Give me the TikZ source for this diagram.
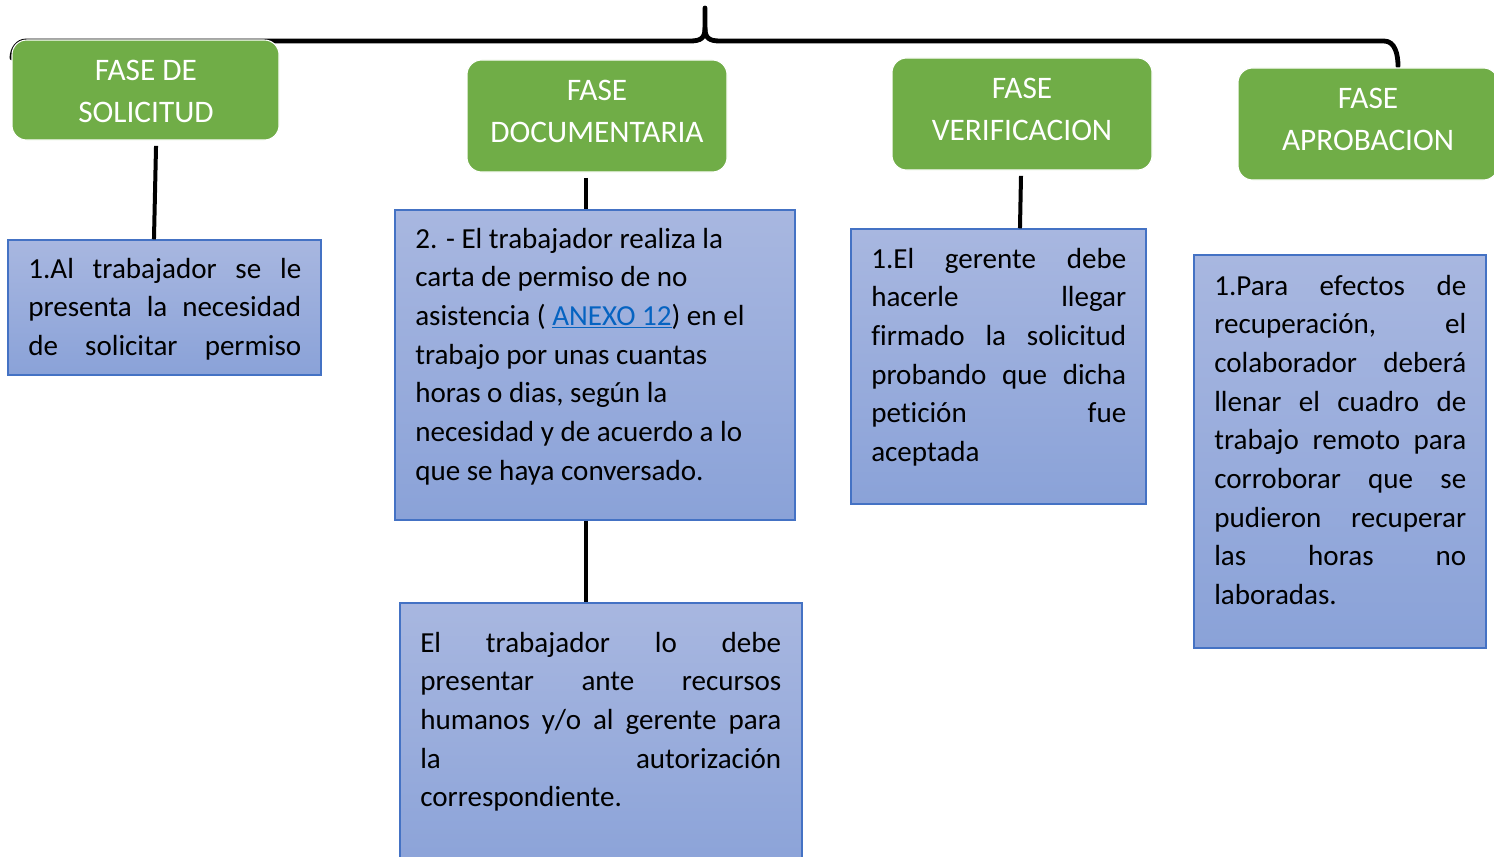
\documentclass[tikz,border=0pt]{standalone}
\usepackage{fontspec}
\setmainfont[Ligatures=NoCommon]{Carlito}
\definecolor{gfill}{HTML}{70AD47}
\definecolor{btop}{HTML}{A8B7E0}
\definecolor{bbot}{HTML}{8AA2D8}
\definecolor{bline}{HTML}{4472C4}
\definecolor{linkc}{HTML}{0563C1}
\tikzset{
  gbox/.style={fill=gfill, draw=white, line width=0.8pt, rounded corners=11pt, inner sep=0pt},
  gtext/.style={text=white, align=center, font=\fontsize{23.5pt}{31.5pt}\selectfont, inner sep=0pt},
  bbox/.style={draw=bline, line width=1.1pt, top color=btop, bottom color=bbot, inner sep=0pt},
  btext/.style={anchor=base west, inner sep=0pt, font=\fontsize{21.8pt}{29pt}\selectfont},
  conn/.style={line width=3pt, black},
  brace/.style={line width=3.6pt, black, line cap=round}
}
\newcommand{\jl}[2]{\makebox[#1][s]{#2}}
\begin{document}
\begin{tikzpicture}[x=0.75pt,y=-0.75pt]
\clip (0,0) rectangle (1494,856);
\fill[white] (0,0) rectangle (1494,856);

% top brace
\coordinate (bl) at (12,58);
\coordinate (bt) at (705,8);
\coordinate (br) at (1398,66);
\draw[brace] (bl) to[out=90,in=180] (26,41) -- (690,41)
  .. controls (701,41) and (705,38) .. (705,28) -- (bt);
\draw[brace] (705,28) .. controls (705,38) and (709,41) .. (720,41) -- (1384,41)
  to[out=0,in=90] (br);

% green phase boxes
\node[gbox, minimum width=200.25pt, minimum height=75pt] (g1) at (145.5,90) {};
\node[gbox, minimum width=195pt, minimum height=84pt] (g2) at (597,116) {};
\node[gbox, minimum width=195pt, minimum height=84pt] (g3) at (1022,114) {};
\node[gbox, minimum width=195pt, minimum height=84pt] (g4) at (1368,124) {};
\node[gtext] (t1) at (146,91) {FASE DE\\SOLICITUD};
\node[gtext] (t2) at (597,111) {FASE\\DOCUMENTARIA};
\node[gtext] (t3) at (1022,109) {FASE\\VERIFICACION};
\node[gtext] (t4) at (1368,119) {FASE\\APROBACION};

% blue boxes
\node[bbox, minimum width=234.75pt, minimum height=101.25pt] (b1) at (164.5,307.5) {};
\node[bbox, minimum width=300pt, minimum height=232.5pt] (b2) at (595,365) {};
\node[bbox, minimum width=301.5pt, minimum height=207.75pt] (b3) at (601,741.5) {};
\node[bbox, minimum width=221.25pt, minimum height=206.25pt] (b4) at (998.5,366.5) {};
\node[bbox, minimum width=219pt, minimum height=294.75pt] (b5) at (1340,451.5) {};

% connectors
\draw[conn] ([xshift=7.9pt,yshift=-4pt]g1.south) -- ([xshift=-7.9pt]b1.north);
\draw[conn] ([xshift=-8.25pt,yshift=-4pt]g2.south) -- ([xshift=-6.75pt]b2.north);
\draw[conn] ([xshift=-6.75pt]b2.south) -- ([xshift=-11.25pt]b3.north);
\draw[conn] ([xshift=-0.75pt,yshift=-4pt]g3.south) -- ([xshift=16.1pt]b4.north);

% texts
\node[btext] (x1) at (28,278) {\parbox[t]{204.75pt}{%
\jl{204.75pt}{1.Al trabajador se le}\\
\jl{204.75pt}{presenta la necesidad}\\
\jl{204.75pt}{de solicitar permiso}}};

\node[btext] (x2) at (415,248) {\parbox[t]{280pt}{%
2. - El trabajador realiza la\\
carta de permiso de no\\
asistencia ( \textcolor{linkc}{\underline{ANEXO 12}}) en el\\
trabajo por unas cuantas\\
horas o dias, según la\\
necesidad y de acuerdo a lo\\
que se haya conversado.}};

\node[btext] (x3) at (420,652) {\parbox[t]{270.75pt}{%
\jl{270.75pt}{El trabajador lo debe}\\
\jl{270.75pt}{presentar ante recursos}\\
\jl{270.75pt}{humanos y/o al gerente para}\\
\jl{270.75pt}{la autorización}\\
correspondiente.}};

\node[btext] (x4) at (871,268) {\parbox[t]{191.25pt}{%
\jl{191.25pt}{1.El gerente debe}\\
\jl{191.25pt}{hacerle llegar}\\
\jl{191.25pt}{firmado la solicitud}\\
\jl{191.25pt}{probando que dicha}\\
\jl{191.25pt}{petición fue}\\
aceptada}};

\node[btext] (x5) at (1214,295) {\parbox[t]{189pt}{%
\jl{189pt}{1.Para efectos de}\\
\jl{189pt}{recuperación, el}\\
\jl{189pt}{colaborador deberá}\\
\jl{189pt}{llenar el cuadro de}\\
\jl{189pt}{trabajo remoto para}\\
\jl{189pt}{corroborar que se}\\
\jl{189pt}{pudieron recuperar}\\
\jl{189pt}{las horas no}\\
laboradas.}};
\end{tikzpicture}
\end{document}
